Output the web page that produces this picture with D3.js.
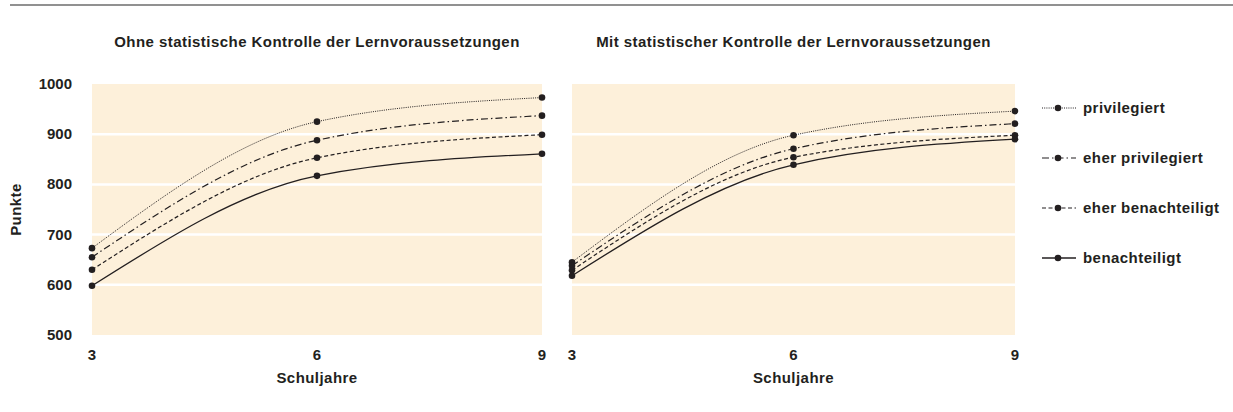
<!DOCTYPE html>
<meta charset="utf-8">
<script src="https://d3js.org/d3.v7.min.js"></script>
<style>
  body { margin: 0; background: #fff; }
  text { font-family: "Liberation Sans", Arial, Helvetica, sans-serif; font-weight: bold; fill: #231f20; font-size: 15px; }
  .word { letter-spacing: 0.45px; }
</style>
<svg id="chart" width="1233" height="412"></svg>
<script>
// --- data ---
var years = [3, 6, 9];
var groups = ["privilegiert", "eher privilegiert", "eher benachteiligt", "benachteiligt"];
var ohneKontrolle = [
  [673, 925, 973],
  [655, 888, 937],
  [630, 853, 899],
  [598, 817, 861]
];
var mitKontrolle = [
  [645, 898, 946],
  [638, 871, 921],
  [629, 854, 898],
  [618, 839, 890]
];
var titles = ["Ohne statistische Kontrolle der Lernvoraussetzungen", "Mit statistischer Kontrolle der Lernvoraussetzungen"];
var yTicks = [500, 600, 700, 800, 900, 1000];

// line styles per group
var dashes = ["1,1.2", "7,3,1.5,3", "4,2.5", null];
var widths = [1, 1.2, 1.2, 1.3];
var ink = "#231f20";

var svg = d3.select("#chart");

// top rule
svg.append("line")
  .attr("x1", 10).attr("x2", 1233).attr("y1", 5).attr("y2", 5)
  .attr("stroke", "#6d6d6d").attr("stroke-width", 1.3);

var y = d3.scaleLinear().domain([500, 1000]).range([335, 84]);

var panels = [
  { data: ohneKontrolle, x: d3.scaleLinear().domain([3, 9]).range([92, 542]) },
  { data: mitKontrolle, x: d3.scaleLinear().domain([3, 9]).range([572, 1015]) }
];

panels.forEach(function (p, i) {
  var x = p.x;
  var g = svg.append("g");

  g.append("rect")
    .attr("x", x(3)).attr("y", y(1000))
    .attr("width", x(9) - x(3)).attr("height", y(500) - y(1000))
    .attr("fill", "#fdf0da");

  g.selectAll(".grid").data(yTicks.slice(1, -1)).enter().append("line")
    .attr("x1", x(3)).attr("x2", x(9))
    .attr("y1", function (d) { return y(d); }).attr("y2", function (d) { return y(d); })
    .attr("stroke", "#fff").attr("stroke-width", 2.5);

  g.append("text").attr("class", "word")
    .attr("x", (x(3) + x(9)) / 2).attr("y", 47)
    .attr("text-anchor", "middle")
    .text(titles[i]);

  g.selectAll(".xt").data(years).enter().append("text")
    .attr("x", function (d) { return x(d); }).attr("y", 360)
    .attr("text-anchor", "middle")
    .text(function (d) { return d; });

  g.append("text").attr("class", "word")
    .attr("x", (x(3) + x(9)) / 2).attr("y", 383)
    .attr("text-anchor", "middle")
    .text("Schuljahre");

  var line = d3.line()
    .x(function (d, j) { return x(years[j]); })
    .y(function (d) { return y(d); })
    .curve(d3.curveMonotoneX);

  p.data.forEach(function (series, k) {
    g.append("path")
      .attr("d", line(series))
      .attr("fill", "none")
      .attr("stroke", ink)
      .attr("stroke-width", widths[k])
      .attr("stroke-dasharray", dashes[k]);
    g.selectAll(".dot" + k).data(series).enter().append("circle")
      .attr("cx", function (d, j) { return x(years[j]); })
      .attr("cy", function (d) { return y(d); })
      .attr("r", 3.3).attr("fill", ink);
  });
});

// y axis labels (left panel only)
svg.selectAll(".yt").data(yTicks).enter().append("text")
  .attr("x", 72).attr("y", function (d) { return y(d) + 5; })
  .attr("text-anchor", "end")
  .text(function (d) { return d; });

svg.append("text").attr("class", "word")
  .attr("transform", "translate(21," + y(750) + ") rotate(-90)")
  .attr("text-anchor", "middle")
  .text("Punkte");

// legend
var legend = svg.append("g");
groups.forEach(function (name, k) {
  var ly = 108 + k * 50;
  legend.append("line")
    .attr("x1", 1042).attr("x2", 1076).attr("y1", ly).attr("y2", ly)
    .attr("stroke", ink).attr("stroke-width", widths[k])
    .attr("stroke-dasharray", dashes[k]);
  legend.append("circle").attr("cx", 1058).attr("cy", ly).attr("r", 3.3).attr("fill", ink);
  legend.append("text").attr("class", "word")
    .attr("x", 1083).attr("y", ly + 5)
    .text(name);
});
</script>
